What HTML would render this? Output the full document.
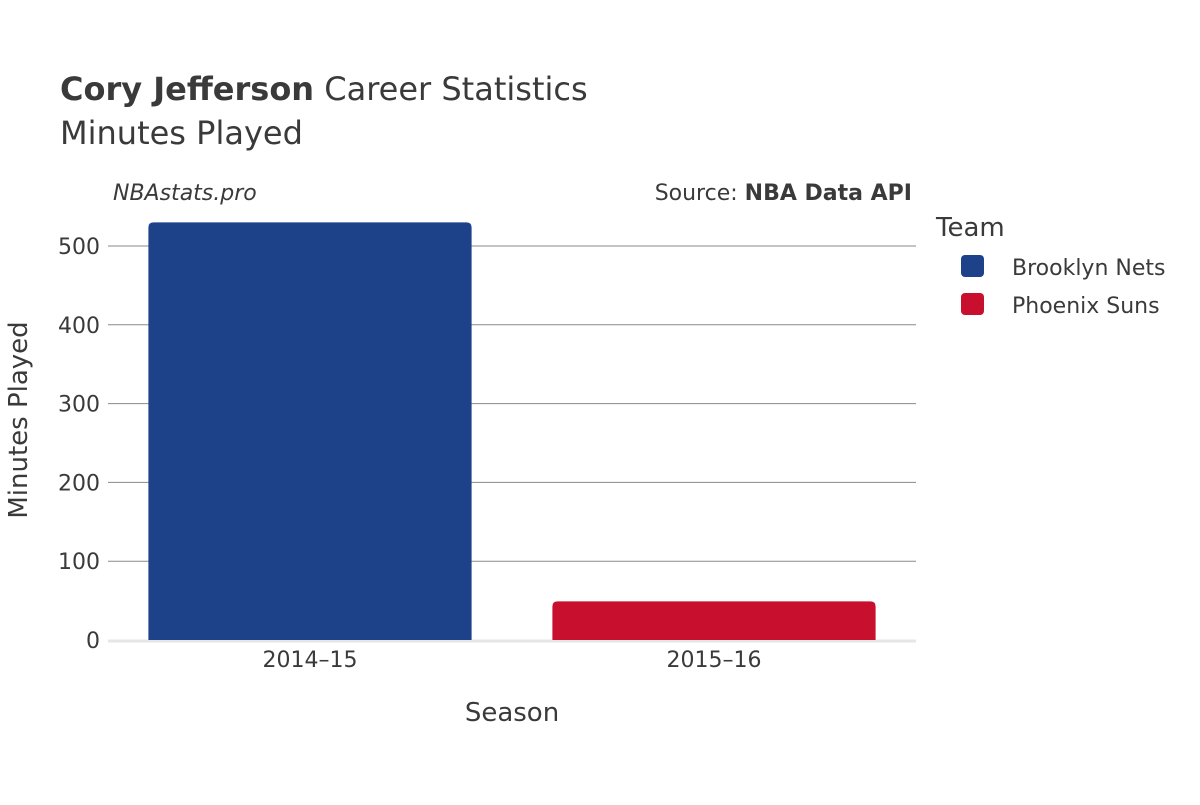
<!DOCTYPE html>
<html><head><meta charset="utf-8"><style>
body{margin:0;background:#fff;}
svg text{font-family:"DejaVu Sans","Liberation Sans",sans-serif;fill:#3a3a3a;}
</style></head><body>
<svg id="chart" width="1200" height="800">
<text x="60" y="100" font-size="32"><tspan font-weight="bold">Cory Jefferson</tspan> Career Statistics</text>
<text x="60" y="144" font-size="32">Minutes Played</text>
<text x="113" y="200" font-size="22" font-style="italic">NBAstats.pro</text>
<text x="912" y="200" font-size="22" text-anchor="end">Source: <tspan font-weight="bold">NBA Data API</tspan></text>
<g id="grid"></g>
<g id="bars"></g>
<g id="xticks"></g>
<text x="512" y="721" font-size="26" text-anchor="middle">Season</text>
<text transform="translate(27,420) rotate(-90)" font-size="26" text-anchor="middle">Minutes Played</text>
<text x="936" y="236" font-size="26">Team</text>
<g><rect x="961" y="255" width="23" height="22" rx="4" fill="#1d428a"/><text x="1012" y="275" font-size="22">Brooklyn Nets</text></g>
<g><rect x="961" y="293" width="23" height="22" rx="4" fill="#c8102e"/><text x="1012" y="313" font-size="22">Phoenix Suns</text></g>
</svg>
<script>
const categories=["2014–15","2015–16"];
const values=[530,49];
const colors=["#1d428a","#c8102e"];
const barNames=["bar-2014-15-brooklyn-nets","bar-2015-16-phoenix-suns"];
const yTicks=[0,100,200,300,400,500];
const ns="http://www.w3.org/2000/svg";
const x0=108,x1=916,yBase=640,pxPer=0.788;
const y=v=>yBase-v*pxPer;
const band=(x1-x0)/categories.length;
const grid=document.getElementById('grid');
yTicks.forEach(t=>{
  if(t>0){const l=document.createElementNS(ns,'line');
  l.setAttribute('x1',x0);l.setAttribute('x2',x1);l.setAttribute('y1',y(t));l.setAttribute('y2',y(t));
  l.setAttribute('stroke','#8a8a8a');l.setAttribute('stroke-width','1');
  
  
  grid.appendChild(l);}
  const tx=document.createElementNS(ns,'text');
  tx.setAttribute('x',100);tx.setAttribute('y',y(t)+8);tx.setAttribute('text-anchor','end');tx.setAttribute('font-size','22');
  tx.textContent=t;
  
  
  grid.appendChild(tx);
});
const base=document.createElementNS(ns,'line');
base.setAttribute('x1',x0);base.setAttribute('x2',x1);base.setAttribute('y1',yBase+1);base.setAttribute('y2',yBase+1);
base.setAttribute('stroke','#e6e6e6');base.setAttribute('stroke-width','3');


grid.appendChild(base);
const bars=document.getElementById('bars'),xt=document.getElementById('xticks');
categories.forEach((c,i)=>{
  const pad=band*0.1;
  const bx=x0+i*band+pad,bw=band-2*pad,top=y(values[i]);
  const p=document.createElementNS(ns,'path');
  const r=5;
  p.setAttribute('d',`M${bx},${yBase}V${top+r}Q${bx},${top} ${bx+r},${top}H${bx+bw-r}Q${bx+bw},${top} ${bx+bw},${top+r}V${yBase}Z`);
  p.setAttribute('fill',colors[i]);
  
  
  bars.appendChild(p);
  const t=document.createElementNS(ns,'text');
  t.setAttribute('x',x0+i*band+band/2);t.setAttribute('y',667);t.setAttribute('text-anchor','middle');t.setAttribute('font-size','22');
  t.textContent=c;
  
  
  xt.appendChild(t);
});
</script>
</body></html>
